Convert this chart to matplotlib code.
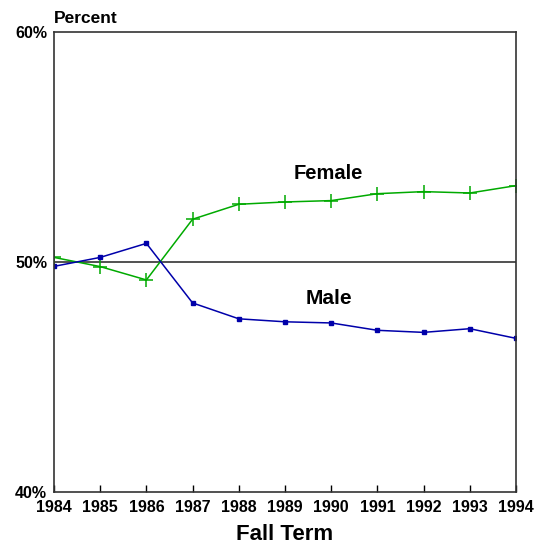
import numpy as np
import matplotlib.pyplot as plt

plt.rcParams['font.family'] = ['Liberation Sans', 'DejaVu Sans']
plt.rcParams['font.weight'] = 'bold'

years = [1984, 1985, 1986, 1987, 1988, 1989, 1990, 1991, 1992, 1993, 1994]
female = [50.2, 49.8, 49.22, 51.86, 52.51, 52.61, 52.67, 52.97, 53.06, 53.0, 53.32]
male = [49.81, 50.2, 50.81, 48.22, 47.53, 47.4, 47.35, 47.03, 46.94, 47.1, 46.68]
yticks = [40, 50, 60]
ylabels = ["40%", "50%", "60%"]

fig = plt.figure(figsize=(5.38, 5.46), dpi=100)
ax = fig.add_axes([54/538, 1-492/546, 462/538, 460/546])

ax.axhline(50, color="#333333", lw=1.2, zorder=1)
ax.plot(years, female, color="#00aa00", lw=1.1, marker="+", ms=10, mew=1.1)
ax.plot(years, male, color="#0000aa", lw=1.1, marker="s", ms=3.5)

ax.set_xlim(1984, 1994)
ax.set_ylim(40, 60)
ax.set_xticks(years)
ax.set_xticklabels([str(y) for y in years], fontsize=11.5, fontweight="bold")
ax.set_yticks(yticks)
ax.set_yticklabels(ylabels, fontsize=11.5, fontweight="bold", va="center_baseline")
ax.tick_params(axis="x", direction="in", length=5, pad=6, width=1)
ax.tick_params(axis="y", length=0, pad=5)
for s in ax.spines.values():
    s.set_color("#333333")
    s.set_linewidth(1.2)

ax.text(0.0, 1 + 9/460, "Percent", transform=ax.transAxes, fontsize=12.5,
        fontweight="bold", va="baseline", ha="left")
ax.text(1989.94, 53.83, "Female", fontsize=14.5, fontweight="bold", ha="center", va="center")
ax.text(1989.95, 48.43, "Male", fontsize=15, fontweight="bold", ha="center", va="center")
ax.set_xlabel("Fall Term", fontsize=16, fontweight="bold", labelpad=6)

fig.savefig("out.png", dpi=100)
